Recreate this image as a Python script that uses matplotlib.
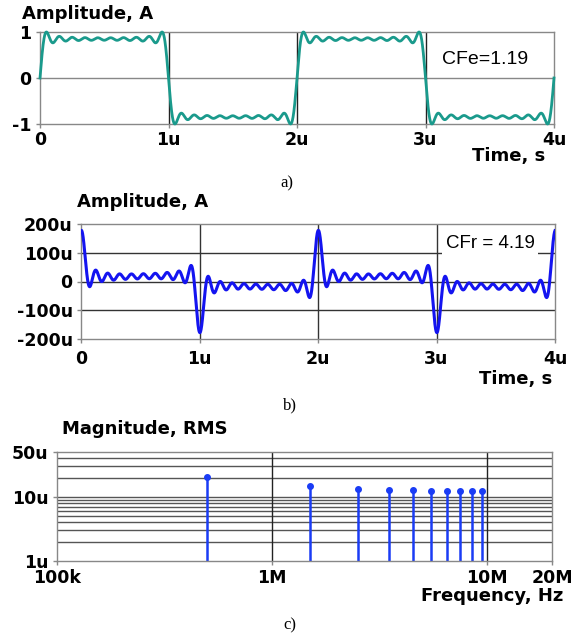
import numpy as np
import matplotlib
matplotlib.use("Agg")
import matplotlib.pyplot as plt
from matplotlib import font_manager
from matplotlib.ticker import FixedLocator, FixedFormatter, NullLocator

# ---------------- data ----------------
f0 = 500e3                       # fundamental frequency, Hz (period 2 us)
harmonics = [1, 3, 5, 7, 9, 11, 13, 15, 17, 19]
# (a) voltage-like square wave: sine amplitude of each odd harmonic (before peak normalisation)
a_sin_amp = [1.2732, 0.4244, 0.2546, 0.1819, 0.1415, 0.1157, 0.0979, 0.0849, 0.0749, 0.0670]
# (b) current: in-phase (sine) and quadrature (cosine) peak amplitudes, in uA
b_sin_amp = [22.9, 7.64, 4.58, 3.27, 2.55, 2.08, 1.76, 1.53, 1.35, 1.21]
b_cos_amp = [16.8, 19.2, 18.4, 17.8, 17.6, 17.5, 17.4, 17.4, 17.3, 17.3]
# (c) RMS magnitude of each harmonic, in uA
spec_freq = [0.5e6, 1.5e6, 2.5e6, 3.5e6, 4.5e6, 5.5e6, 6.5e6, 7.5e6, 8.5e6, 9.5e6]
spec_rms_u = [20.1, 14.6, 13.4, 12.8, 12.7, 12.5, 12.4, 12.4, 12.3, 12.3]

time_ticks = [0, 1e-6, 2e-6, 3e-6, 4e-6]
time_labels = ["0", "1u", "2u", "3u", "4u"]
b_yticks = [-200e-6, -100e-6, 0, 100e-6, 200e-6]
b_ylabels = ["-200u", "-100u", "0", "100u", "200u"]
c_xticks = [1e5, 1e6, 1e7, 2e7]
c_xlabels = ["100k", "1M", "10M", "20M"]
c_yticks = [1e-6, 10e-6, 50e-6]
c_ylabels = ["1u", "10u", "50u"]
c_minor_grid = [2e-6, 3e-6, 4e-6, 5e-6, 6e-6, 7e-6, 8e-6, 9e-6, 20e-6, 30e-6, 40e-6]

# ---------------- synthesis ----------------
t = np.linspace(0, 4e-6, 4000)
w = 2 * np.pi * f0
va = np.zeros_like(t)
ib = np.zeros_like(t)
for n, sa, bs, bc in zip(harmonics, a_sin_amp, b_sin_amp, b_cos_amp):
    va += sa * np.sin(n * w * t)
    ib += (bs * np.sin(n * w * t) + bc * np.cos(n * w * t)) * 1e-6
va = va / np.max(np.abs(va))

# condensed font for the crest-factor annotations
names = {f.name for f in font_manager.fontManager.ttflist}
if "Liberation Sans Narrow" in names:
    CF_FONT = dict(family="Liberation Sans Narrow", fontsize=17)
    CF_FONT_B = dict(family="Liberation Sans Narrow", fontsize=16)
else:
    CF_FONT = dict(family="Liberation Sans", fontsize=14)
    CF_FONT_B = dict(family="Liberation Sans", fontsize=13.5)

# ---------------- figure ----------------
W, H = 573, 634
fig = plt.figure(figsize=(W / 100, H / 100), dpi=100)
BOLD = dict(family="DejaVu Sans", weight="bold")
TICKFS = 12.5
TITLEFS = 13

def ax_px(l, r, t_, b_):
    return fig.add_axes([l / W, 1 - b_ / H, (r - l) / W, (b_ - t_) / H])

def ftext(x, y, s, **kw):
    fig.text(x / W, 1 - y / H, s, **kw)

def style(ax, xpad=2, ypad=2):
    for sp in ax.spines.values():
        sp.set_color("#888888")
        sp.set_linewidth(1.0)
    ax.tick_params(length=3, width=1, color="#888888")
    ax.tick_params(axis="x", pad=xpad)
    ax.tick_params(axis="y", pad=ypad)
    for lab in ax.get_xticklabels() + ax.get_yticklabels():
        lab.set_fontweight("bold")
        lab.set_fontsize(TICKFS)
        lab.set_family("DejaVu Sans")

# ----- (a) -----
ax = ax_px(40, 554, 32, 124)
ax.set_xlim(0, 4e-6)
ax.set_ylim(-1, 1)
ax.axhline(0, color="#888888", lw=1.0)
for x in time_ticks[1:-1]:
    ax.axvline(x, color="#222222", lw=1.0)
ax.plot(t, va, color="#1a9a8c", lw=2.0, clip_on=False, zorder=3)
ax.xaxis.set_major_locator(FixedLocator(time_ticks))
ax.xaxis.set_major_formatter(FixedFormatter(time_labels))
ax.yaxis.set_major_locator(FixedLocator([-1, 0, 1]))
ax.yaxis.set_major_formatter(FixedFormatter(["-1", "0", "1"]))
style(ax, xpad=2, ypad=3)
ax.text(0.866, 0.7, "CFe=1.19", transform=ax.transAxes, ha="center", va="center", **CF_FONT)
ftext(22, 14, "Amplitude, A", ha="left", va="center", fontsize=TITLEFS, **BOLD)
ftext(545, 156, "Time, s", ha="right", va="center", fontsize=TITLEFS, **BOLD)
ftext(287, 183, "a)", ha="center", va="center", family="Liberation Serif", fontsize=12)

# ----- (b) -----
ax = ax_px(81, 555, 224, 339)
ax.set_xlim(0, 4e-6)
ax.set_ylim(-200e-6, 200e-6)
for y in b_yticks[1:-1]:
    ax.axhline(y, color="#333333", lw=1.0)
for x in time_ticks[1:-1]:
    ax.axvline(x, color="#333333", lw=1.0)
ax.plot(t, ib, color="#1414f0", lw=2.2, zorder=3)
ax.xaxis.set_major_locator(FixedLocator(time_ticks))
ax.xaxis.set_major_formatter(FixedFormatter(time_labels))
ax.yaxis.set_major_locator(FixedLocator(b_yticks))
ax.yaxis.set_major_formatter(FixedFormatter(b_ylabels))
style(ax, xpad=5, ypad=3)
ax.text(0.863, 0.83, "CFr = 4.19", transform=ax.transAxes, ha="center", va="center",
        zorder=5, bbox=dict(facecolor="white", edgecolor="none", pad=2.5), **CF_FONT_B)
ftext(77, 202, "Amplitude, A", ha="left", va="center", fontsize=TITLEFS, **BOLD)
ftext(552, 379, "Time, s", ha="right", va="center", fontsize=TITLEFS, **BOLD)
ftext(290, 405, "b)", ha="center", va="center", family="Liberation Serif", fontsize=12)

# ----- (c) -----
ax = ax_px(57, 552, 452, 561)
ax.set_xscale("log")
ax.set_yscale("log")
ax.set_xlim(1e5, 2e7)
ax.set_ylim(1e-6, 50e-6)
for y in c_minor_grid + [10e-6]:
    ax.axhline(y, color="#555555", lw=1.0)
for x in [1e6, 1e7]:
    ax.axvline(x, color="#222222", lw=1.0)
mk, st, bl = ax.stem(spec_freq, np.array(spec_rms_u) * 1e-6, bottom=1e-6, basefmt=" ")
plt.setp(st, color="#1a3cf5", lw=1.8)
plt.setp(mk, color="#1a3cf5", markersize=4)
ax.xaxis.set_major_locator(FixedLocator(c_xticks))
ax.xaxis.set_major_formatter(FixedFormatter(c_xlabels))
ax.xaxis.set_minor_locator(NullLocator())
ax.yaxis.set_major_locator(FixedLocator(c_yticks))
ax.yaxis.set_major_formatter(FixedFormatter(c_ylabels))
ax.yaxis.set_minor_locator(NullLocator())
style(ax, xpad=3, ypad=3)
for lab in ax.get_yticklabels():
    lab.set_verticalalignment("center_baseline")
ftext(62, 429, "Magnitude, RMS", ha="left", va="center", fontsize=TITLEFS, **BOLD)
ftext(563, 596, "Frequency, Hz", ha="right", va="center", fontsize=TITLEFS, **BOLD)
ftext(290, 625, "c)", ha="center", va="center", family="Liberation Serif", fontsize=12)

fig.savefig("out.png", dpi=100)
